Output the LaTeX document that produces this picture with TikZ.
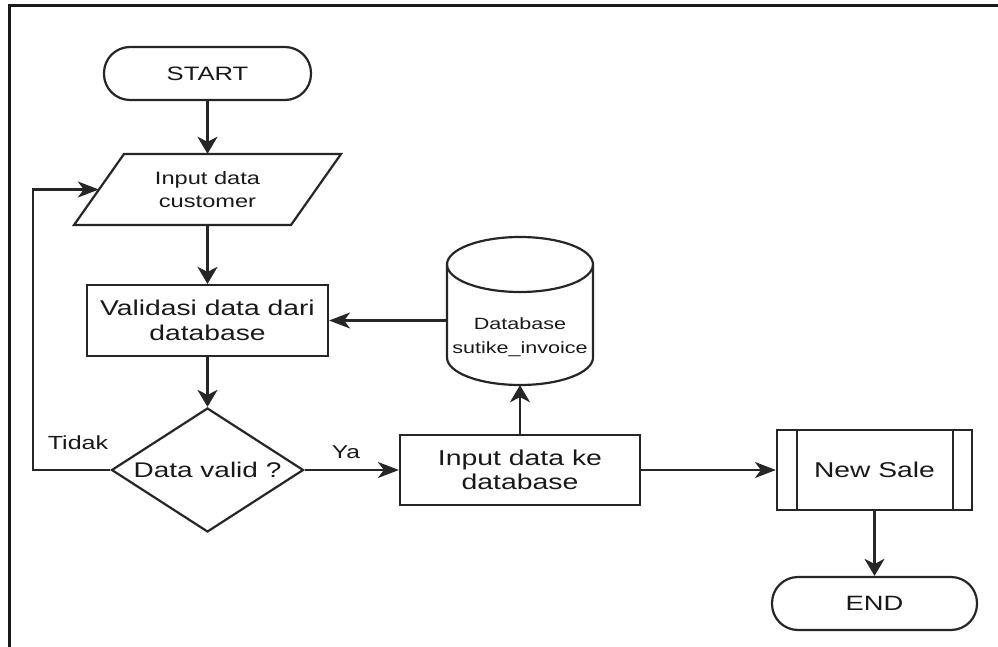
\documentclass[tikz,border=0pt]{standalone}
\usepackage{fontspec}
\setmainfont[FakeStretch=1.32]{Liberation Sans}
\usetikzlibrary{arrows.meta,shapes.geometric}
\newcommand\myfs[2]{\fontsize{#1}{#2}\selectfont}
\tikzset{
  ln/.style={line width=2.2pt, draw=black!85},
  term/.style={ln, rounded corners=26pt, inner sep=0pt, text=black!90},
  procbox/.style={ln, inner sep=0pt, align=center, text=black!90},
  txt/.style={inner sep=0pt, align=center, text=black!90},
  varr/.style={ln, -{Stealth[length=17pt,width=20pt,inset=5pt]}},
  harr/.style={ln, -{Stealth[length=21pt,width=16pt,inset=6pt]}},
}
\begin{document}
\begin{tikzpicture}[x=1pt,y=-1pt]
\useasboundingbox (0,0) rectangle (998,647);
% frame
\draw[line width=2.6pt, black!90] (998,5.5) -- (9.5,5.5) -- (9.5,647);
% START
\node[term, minimum width=207, minimum height=53, font=\myfs{19.4}{23}] (start) at (207.5,73.5) {START};
% input parallelogram
\node[txt, minimum width=217, minimum height=71, font=\myfs{17.9}{23}] (inp) at (207.5,189.5) {Input data\\customer};
\draw[ln, line join=miter] (124,154) -- (341,154) -- (291,225) -- (74,225) -- cycle;
% validasi
\node[procbox, minimum width=241, minimum height=71, font=\myfs{21.4}{25}] (val) at (207.5,320.5) {Validasi data dari\\database};
% decision
\node[diamond, ln, minimum width=192, minimum height=124, inner sep=0pt] (dec) at (207.5,470) {};
\node[txt, font=\myfs{21.2}{25}] (dect) at (dec.center) {Data valid ?};
% input ke database
\node[procbox, minimum width=240, minimum height=70, font=\myfs{21.5}{24}] (inb) at (520,470) {Input data ke\\database};
% database cylinder
\node[inner sep=0pt, minimum width=146, minimum height=148] (db) at (520,311) {};
\draw[ln] (520,264.5) ellipse [x radius=73, y radius=27.5];
\draw[ln] (447,264.5) -- (447,357.5) arc[start angle=180, end angle=0, x radius=73, y radius=27.5] -- (593,264.5);
\node[txt, font=\myfs{16.3}{24}] (dbt) at (520,337) {Database\\sutike\_invoice};
% new sale
\node[procbox, minimum width=195, minimum height=80, font=\myfs{21.4}{25}] (ns) at (874.5,470) {New Sale};
\draw[ln] ([xshift=21pt]ns.north west) -- ([xshift=21pt]ns.south west);
\draw[ln] ([xshift=-20pt]ns.north east) -- ([xshift=-20pt]ns.south east);
% END
\node[term, minimum width=205, minimum height=53, font=\myfs{20.7}{24}] (stop) at (874.5,603.5) {END};
% labels
\node[txt, font=\myfs{19}{22}] (tidak) at (78,443) {Tidak};
\node[txt, font=\myfs{18.6}{22}] (ya) at (346,452) {Ya};
% connectors
\coordinate (lp) at (33,470);
\draw[varr] (start.south) -- (inp.north);
\draw[varr] (inp.south) -- (val.north);
\draw[varr] (val.south) -- (dec.north);
\draw[harr] (dec.west) -- (lp) |- (inp.west);
\draw[harr] (dec.east) -- (inb.west);
\draw[varr] (inb.north) -- (db.south);
\draw[harr] (db.west |- val.east) -- (val.east);
\draw[harr] (inb.east) -- (ns.west);
\draw[varr] (ns.south) -- (stop.north);
\end{tikzpicture}
\end{document}
